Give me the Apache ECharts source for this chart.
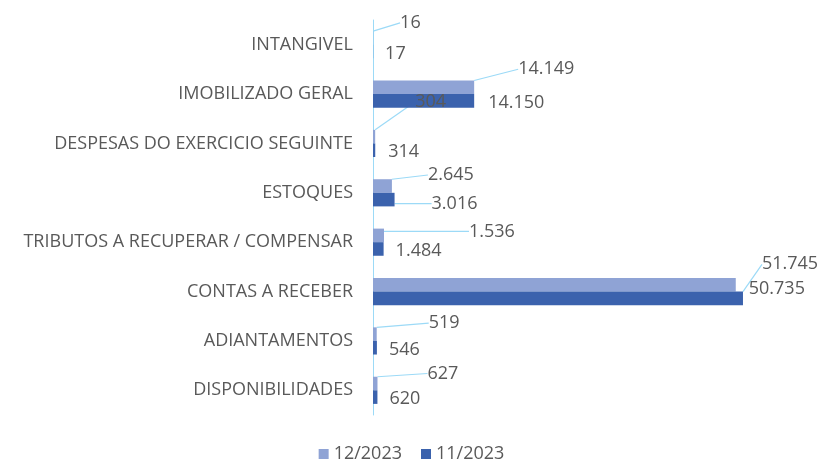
<!DOCTYPE html>
<html>
<head>
<meta charset="utf-8">
<script src="https://cdn.jsdelivr.net/npm/echarts@6/dist/echarts.min.js"></script>
<style>
  html, body { margin: 0; padding: 0; background: #fff; }
  #chart { width: 823px; height: 468px; }
</style>
</head>
<body>
<div id="chart"></div>
<script>
// bottom to top
const categories = ['DISPONIBILIDADES', 'ADIANTAMENTOS', 'CONTAS A RECEBER', 'TRIBUTOS A RECUPERAR / COMPENSAR',
  'ESTOQUES', 'DESPESAS DO EXERCICIO SEGUINTE', 'IMOBILIZADO GERAL', 'INTANGIVEL'];
const seriesNames = ['12/2023', '11/2023'];
const dec2023 = [627, 519, 50735, 1536, 2645, 304, 14149, 16];
const nov2023 = [620, 546, 51745, 1484, 3016, 314, 14150, 17];

// label offsets (px) used to mimic the moved labels of the original, with leader lines
const decShift = [[41, -10], [43, -11], [4, 4], [76, -4], [27, -11], [31, -35], [35, -18], [18, -15]];
const novShift = [[3, 2], [3, 2], [10, -34], [3, 2], [28, 4], [4, 2], [5, 2], [3, 2]];
const decLeader = [true, true, false, true, true, true, true, true];
const novLeader = [false, false, true, false, true, false, false, false];

const fmt = v => v.toLocaleString('de-DE');
const chart = echarts.init(document.getElementById('chart'));
const textColor = '#595959';
const leaderColor = '#9CDAF7';

function makeData(values, leaders) {
  return values.map((v, i) => ({
    value: v,
    labelLine: { show: leaders[i] }
  }));
}

function makeSeries(name, values, shifts, leaders, color) {
  return {
    name: name,
    type: 'bar',
    data: makeData(values, leaders),
    itemStyle: { color: color },
    barGap: '0%',
    barCategoryGap: '45%',
    label: {
      show: true,
      position: 'right',
      distance: 9,
      color: textColor,
      fontSize: 18,
      fontFamily: 'Open Sans',
      formatter: p => fmt(p.value)
    },
    labelLine: {
      lineStyle: { color: leaderColor, width: 1.2 }
    },
    labelLayout: p => ({ dx: shifts[p.dataIndex][0], dy: shifts[p.dataIndex][1] })
  };
}

chart.setOption({
  animation: false,
  grid: { left: 373, right: 21, top: 20, bottom: 53 },
  legend: {
    bottom: 0,
    left: 'center',
    itemWidth: 10,
    itemHeight: 10,
    itemGap: 19,
    icon: 'rect',
    textStyle: { color: textColor, fontSize: 18, fontFamily: 'Open Sans' },
    data: seriesNames
  },
  xAxis: {
    type: 'value',
    min: 0,
    max: 60000,
    show: false
  },
  yAxis: {
    type: 'category',
    data: categories,
    axisLine: { show: true, lineStyle: { color: leaderColor } },
    axisTick: { show: false },
    axisLabel: { color: textColor, fontSize: 18, fontFamily: 'Open Sans', margin: 20 }
  },
  series: [
    makeSeries(seriesNames[0], dec2023, decShift, decLeader, '#8FA3D5'),
    makeSeries(seriesNames[1], nov2023, novShift, novLeader, '#3B62AD')
  ]
});
</script>
</body>
</html>
